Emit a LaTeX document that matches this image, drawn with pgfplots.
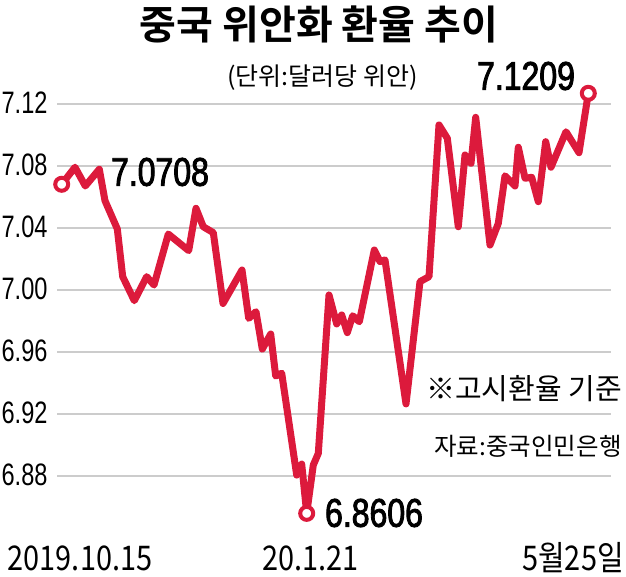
\documentclass[border=0pt]{standalone}
\usepackage{fontspec}
\usepackage{pgfplots}
\pgfplotsset{compat=1.18}
\setmainfont{Liberation Sans}
\newfontfamily\numf[FakeStretch=0.76]{Liberation Sans}
\newfontfamily\numb[FakeStretch=0.8,FakeBold=2.2]{Liberation Sans}
\newfontfamily\krb{Noto Sans CJK KR Bold}
\newfontfamily\kr[FakeStretch=0.85]{Noto Sans CJK KR}
\newfontfamily\krn{Noto Sans CJK KR}
\definecolor{linered}{HTML}{DC1A3C}
\definecolor{gridgray}{HTML}{CCCCCC}
\begin{document}
\begin{tikzpicture}[x=1pt,y=1pt]
\useasboundingbox[clip] (0,0) rectangle (626,576);
\begin{axis}[
  at={(57pt,46pt)}, anchor=south west, scale only axis,
  width=554pt, height=445pt,
  xmin=57, xmax=611, ymin=6.84516, ymax=7.13226,
  clip=false,
  axis line style={draw=none},
  major tick length=0pt,
  ymajorgrids, grid style={gridgray,line width=1.6pt},
  ytick={6.88,6.92,6.96,7.00,7.04,7.08,7.12},
  yticklabel style={/pgf/number format/assume math mode=true,/pgf/number format/fixed,/pgf/number format/fixed zerofill,/pgf/number format/precision=2,font=\fontsize{31}{31}\numf,anchor=east,xshift=-6pt,yshift=1pt},
  xtick={80,310.5,573},
  xticklabels={2019.10.15,20.1.21,5월25일},
  xticklabel style={font=\fontsize{34}{34}\kr,anchor=base,yshift=-40pt},
]
\addplot[linered,line width=7pt,line join=round,line cap=round] coordinates {
(61.7,7.0682)(75,7.0792)(85.3,7.0671)(99.3,7.0779)(105,7.0576)(117.3,7.0394)
(122.7,7.0086)(134.3,6.9931)(146.7,7.0086)(154,7.0032)(168.3,7.0361)(188.7,7.0254)
(196,7.0527)(203.3,7.0408)(213.3,7.0370)(223,6.9913)(242,7.0129)(248.7,6.9817)
(256,6.9860)(262.3,6.9619)(270.7,6.9716)(275.7,6.9445)(281.7,6.9463)(296.7,6.8806)
(301.7,6.8877)(306.7,6.8559)(313.3,6.8871)(318.3,6.8946)(329,6.9968)(336.7,6.9781)
(341.7,6.9839)(347.3,6.9725)(352.7,6.9834)(359.3,6.9795)(374.3,7.0258)(380,7.0183)
(385,7.0194)(406,6.9265)(420,7.0054)(429,7.0086)(439,7.1065)(447.3,7.0979)
(458.3,7.0408)(465,7.0871)(471,7.0817)(475.7,7.1114)(490,7.0290)(498.3,7.0430)
(505,7.0737)(515,7.0671)(518.3,7.0921)(525,7.0721)(531.7,7.0727)(538.3,7.0570)
(545.7,7.0957)(551,7.0792)(566,7.1021)(579,7.0886)(588.3,7.1269)
};
\addplot[only marks,mark=*,mark size=6.5pt,mark options={draw=linered,fill=white,line width=4pt}] coordinates {
(61.7,7.0682)(306.7,6.8559)(588.3,7.1269)
};
\end{axis}
\node[inner sep=0,font=\fontsize{40}{40}\krb] at (319,576-24) {중국 위안화 환율 추이};
\node[inner sep=0,font=\fontsize{25}{25}\krn] at (322.5,576-78) {(단위:달러당 위안)};
\node[inner sep=0,font=\fontsize{40}{40}\numb] at (160,576-172) {7.0708};
\node[inner sep=0,font=\fontsize{40}{40}\numb] at (526,576-76) {7.1209};
\node[inner sep=0,font=\fontsize{40}{40}\numb] at (374,576-513) {6.8606};
\node[inner sep=0,font=\fontsize{29}{29}\krn] at (524,576-389) {※고시환율 기준};
\node[inner sep=0,font=\fontsize{24.5}{24.5}\krn] at (528,576-446) {자료:중국인민은행};
\end{tikzpicture}
\end{document}
